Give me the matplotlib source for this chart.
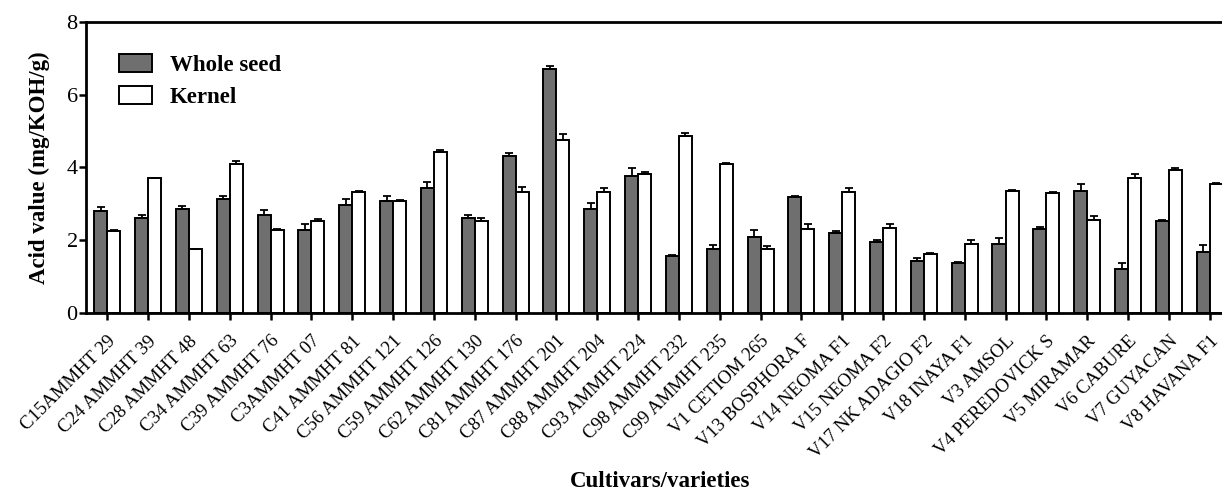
import matplotlib
matplotlib.use("Agg")
import matplotlib.pyplot as plt
import numpy as np
from matplotlib.patches import Patch

plt.rcParams['font.family'] = ['Liberation Serif', 'DejaVu Serif']

cultivars = ["C15AMMHT 29", "C24 AMMHT 39", "C28 AMMHT 48", "C34 AMMHT 63",
             "C39 AMMHT 76", "C3AMMHT 07", "C41 AMMHT 81", "C56 AMMHT 121",
             "C59 AMMHT 126", "C62 AMMHT 130", "C81 AMMHT 176", "C87 AMMHT 201",
             "C88 AMMHT 204", "C93 AMMHT 224", "C98 AMMHT 232", "C99 AMMHT 235",
             "V1 CETIOM 265", "V13 BOSPHORA F", "V14 NEOMA F1", "V15 NEOMA F2",
             "V17 NK ADAGIO F2", "V18 INAYA F1", "V3 AMSOL", "V4 PEREDOVICK S",
             "V5 MIRAMAR", "V6 CABURE", "V7 GUYACAN", "V8 HAVANA F1"]

whole_seed = [2.80, 2.62, 2.87, 3.12, 2.70, 2.29, 2.96, 3.09, 3.44, 2.62,
              4.30, 6.69, 2.86, 3.76, 1.58, 1.76, 2.10, 3.20, 2.21, 1.96,
              1.42, 1.37, 1.89, 2.31, 3.34, 1.21, 2.52, 1.67]
whole_seed_err = [0.11, 0.07, 0.07, 0.09, 0.12, 0.15, 0.18, 0.13, 0.16, 0.06,
                  0.09, 0.08, 0.15, 0.22, 0.02, 0.12, 0.17, 0.02, 0.03, 0.05,
                  0.10, 0.02, 0.16, 0.05, 0.21, 0.16, 0.03, 0.20]
kernel = [2.25, 3.70, 1.75, 4.10, 2.29, 2.53, 3.32, 3.08, 4.42, 2.53,
          3.32, 4.76, 3.32, 3.82, 4.85, 4.10, 1.76, 2.30, 3.32, 2.34,
          1.62, 1.90, 3.36, 3.31, 2.55, 3.72, 3.92, 3.54]
kernel_err = [0.04, 0.02, 0.02, 0.08, 0.02, 0.05, 0.03, 0.03, 0.06, 0.08,
              0.13, 0.16, 0.12, 0.05, 0.09, 0.03, 0.07, 0.14, 0.12, 0.11,
              0.02, 0.10, 0.02, 0.02, 0.12, 0.10, 0.06, 0.02]

fig = plt.figure(figsize=(12.22, 4.93), dpi=100)
ax = fig.add_axes([0.0704, 0.365, 0.9396, 0.591])

x = np.arange(len(cultivars))
w = 0.32
err_kw = dict(ecolor='black', elinewidth=1.3, capsize=3, capthick=1.3)
ax.bar(x - w / 2, whole_seed, w, color='#6f6f6f', edgecolor='black', linewidth=1.4,
       yerr=[np.zeros(len(x)), whole_seed_err], error_kw=err_kw, label='Whole seed', zorder=2)
ax.bar(x + w / 2, kernel, w, color='white', edgecolor='black', linewidth=1.4,
       yerr=[np.zeros(len(x)), kernel_err], error_kw=err_kw, label='Kernel', zorder=2)

ax.set_xlim(-0.52, 27.6)
ax.set_ylim(0, 8)
ax.set_yticks([0, 2, 4, 6, 8])
ax.set_xticks(x)
ax.set_xticklabels(cultivars, rotation=45, ha='right', rotation_mode='anchor', fontsize=13.5)
ax.tick_params(axis='y', labelsize=16, width=1.8, length=5, direction='out', pad=1)
ax.tick_params(axis='x', width=1.8, length=5, direction='out', pad=9)

for side in ['left', 'bottom', 'top']:
    ax.spines[side].set_linewidth(2)
ax.spines['right'].set_visible(False)

ax.set_ylabel('Acid value (mg/KOH/g)', fontsize=16.5, fontweight='bold')
ax.yaxis.set_label_coords(-0.031, 0.5)
fig.text(0.540, 0.012, 'Cultivars/varieties', fontsize=16.5, fontweight='bold', ha='center')

handles = [Patch(facecolor='#6f6f6f', edgecolor='black', linewidth=1.4),
           Patch(facecolor='white', edgecolor='black', linewidth=1.4)]
leg = ax.legend(handles, ['Whole seed', 'Kernel'], loc='upper left',
                bbox_to_anchor=(0.0105, 0.96), frameon=False,
                prop={'family': 'Liberation Serif', 'weight': 'bold', 'size': 16.5},
                handlelength=1.44, handleheight=0.8, handletextpad=0.8, labelspacing=0.45)

fig.savefig('out.png', dpi=100)
